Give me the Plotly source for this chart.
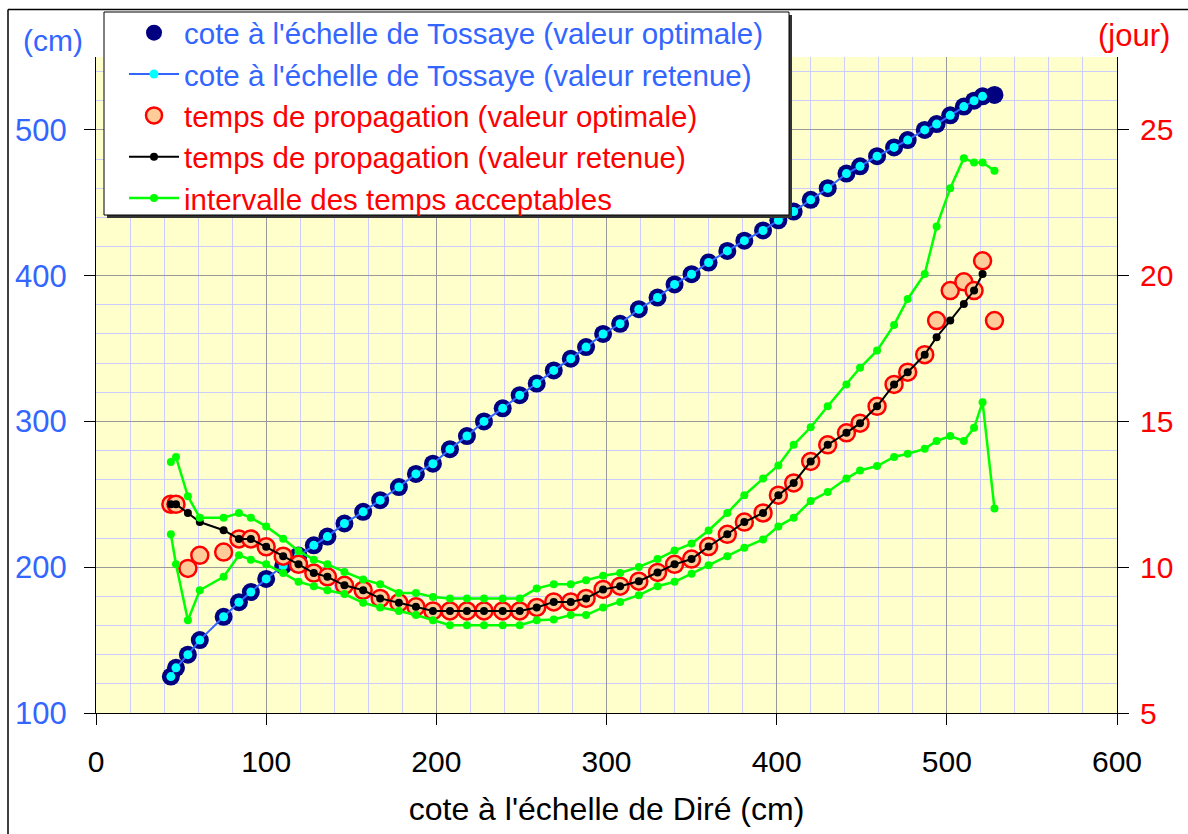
import plotly.graph_objects as go

# ---------------- data ----------------
cote_dire = [44, 47, 54, 61, 75, 84, 91, 100, 110, 119, 128, 136, 146, 157, 167, 178, 188, 198,
             208, 218, 228, 239, 249, 259, 269, 279, 288, 298, 308, 319, 330, 340, 350, 360,
             371, 381, 392, 401, 410, 420, 430, 441, 449, 459, 469, 477, 487, 494, 502, 510,
             516, 521, 528]

tossaye_optimale = [125, 131, 140, 150, 166, 176, 183, 192, 201, 208, 215, 221, 230, 238, 246,
                    255, 264, 271, 281, 290, 300, 309, 318, 326, 335, 343, 351, 360, 367, 377,
                    385, 394, 401, 409, 417, 424, 431, 438, 444, 452, 460, 470, 475, 482, 488,
                    493, 500, 504, 510, 516, 520, 523, 524]

tossaye_retenue = [125, 131, 140, 150, 166, 176, 183, 192, 201, 208, 215, 221, 230, 238, 246,
                   255, 264, 271, 281, 290, 300, 309, 318, 326, 335, 343, 351, 360, 367, 377,
                   385, 394, 401, 409, 417, 424, 431, 438, 444, 452, 460, 470, 475, 482, 488,
                   493, 500, 504, 510, 516, 520, 523]

temps_optimal = [12.16, 12.16, 9.96, 10.41, 10.52, 10.97, 10.97, 10.70, 10.38, 10.10,
                 9.80, 9.67, 9.38, 9.21, 8.93, 8.78, 8.64, 8.50, 8.50, 8.50,
                 8.50, 8.50, 8.50, 8.62, 8.81, 8.81, 8.93, 9.24, 9.35, 9.52,
                 9.82, 10.10, 10.28, 10.71, 11.13, 11.55, 11.86, 12.47, 12.89, 13.63,
                 14.20, 14.61, 14.94, 15.52, 16.27, 16.69, 17.29, 18.46, 19.49, 19.79,
                 19.49, 20.51, 18.46]

temps_retenu = [12.16, 12.16, 11.86, 11.55, 11.27, 10.97, 10.97, 10.70, 10.38, 10.10,
                9.80, 9.67, 9.38, 9.21, 8.93, 8.78, 8.64, 8.50, 8.50, 8.50,
                8.50, 8.50, 8.50, 8.62, 8.81, 8.81, 8.93, 9.24, 9.35, 9.52,
                9.82, 10.10, 10.28, 10.71, 11.13, 11.55, 11.86, 12.47, 12.89, 13.63,
                14.20, 14.61, 14.94, 15.52, 16.27, 16.69, 17.29, 17.89, 18.46, 19.03,
                19.49, 20.06]

temps_max = [13.61, 13.78, 12.43, 11.70, 11.70, 11.86, 11.70, 11.40, 10.98, 10.56,
             10.26, 10.10, 9.84, 9.58, 9.42, 9.12, 9.12, 8.98, 8.93, 8.93,
             8.93, 8.93, 8.93, 9.27, 9.42, 9.42, 9.55, 9.71, 9.80, 10.01,
             10.28, 10.57, 10.81, 11.26, 11.86, 12.47, 13.04, 13.49, 14.20, 14.80,
             15.52, 16.27, 16.84, 17.43, 18.31, 19.20, 20.06, 21.69, 23.00, 24.03,
             23.88, 23.88, 23.60]

temps_min = [11.13, 10.10, 8.18, 9.21, 9.67, 10.41, 10.26, 10.10, 9.80, 9.50,
             9.35, 9.21, 9.08, 8.78, 8.62, 8.50, 8.36, 8.18, 8.01, 8.01,
             8.01, 8.01, 8.01, 8.18, 8.21, 8.36, 8.36, 8.62, 8.81, 9.04,
             9.35, 9.50, 9.78, 10.07, 10.38, 10.67, 10.95, 11.40, 11.70, 12.27,
             12.58, 13.04, 13.32, 13.47, 13.78, 13.89, 14.06, 14.33, 14.50, 14.33,
             14.78, 15.66, 12.01]

noms = ["cote à l'échelle de Tossaye (valeur optimale)",
        "cote à l'échelle de Tossaye (valeur retenue)",
        "temps de propagation (valeur optimale)",
        "temps de propagation (valeur retenue)",
        "intervalle des temps acceptables"]

# ---------------- figure ----------------
FONT = "Liberation Sans, Arial, sans-serif"
BLUE_TXT = "#3366FF"
RED_TXT = "#FF0000"

W, H = 1188, 834
L, R, T, B = 96, 71, 57, 121
PW, PH = W - L - R, H - T - B


def px(xp):
    return (xp - L) / PW


def py(yp):
    return (H - B - yp) / PH


fig = go.Figure()

fig.add_trace(go.Scatter(
    x=cote_dire, y=tossaye_optimale, mode="markers",
    name=f'<span style="color:{BLUE_TXT}">{noms[0]}</span>',
    marker=dict(size=18, color="#000080"), yaxis="y"))

fig.add_trace(go.Scatter(
    x=cote_dire[:len(tossaye_retenue)], y=tossaye_retenue, mode="lines+markers",
    name=f'<span style="color:{BLUE_TXT}">{noms[1]}</span>',
    line=dict(color="#3366FF", width=2),
    marker=dict(size=9, color="#00FFFF"), yaxis="y"))

fig.add_trace(go.Scatter(
    x=cote_dire, y=temps_optimal, mode="markers",
    name=f'<span style="color:{RED_TXT}">{noms[2]}</span>',
    marker=dict(size=17, color="#FFCC99", line=dict(color="#FF0000", width=2.5)),
    yaxis="y2"))

fig.add_trace(go.Scatter(
    x=cote_dire[:len(temps_retenu)], y=temps_retenu, mode="lines+markers",
    name=f'<span style="color:{RED_TXT}">{noms[3]}</span>',
    line=dict(color="black", width=2),
    marker=dict(size=8, color="black"), yaxis="y2"))

fig.add_trace(go.Scatter(
    x=cote_dire + [None] + cote_dire, y=temps_max + [None] + temps_min,
    mode="lines+markers", connectgaps=False,
    name=f'<span style="color:{RED_TXT}">{noms[4]}</span>',
    line=dict(color="#00FF00", width=2.5),
    marker=dict(size=8, color="#00FF00"), yaxis="y2"))

axis_common = dict(showline=True, linecolor="black", linewidth=1,
                   ticks="outside", ticklen=11, tickcolor="black",
                   zeroline=False, automargin=False)

fig.update_layout(
    width=W, height=H,
    margin=dict(l=L, r=R, t=T, b=B, pad=0, autoexpand=False),
    paper_bgcolor="white", plot_bgcolor="#FFFFCC",
    font=dict(family=FONT, size=30, color="black"),
    showlegend=True,
    legend=dict(x=px(124), y=py(7), xanchor="left", yanchor="top",
                bgcolor="rgba(0,0,0,0)", borderwidth=0,
                font=dict(family=FONT, size=29.5), itemwidth=50,
                traceorder="normal"),
    xaxis=dict(range=[0, 600], dtick=100, tick0=0,
               showgrid=True, gridcolor="#999999", gridwidth=1,
               minor=dict(dtick=20, showgrid=True, gridcolor="#CCCCFF", gridwidth=1),
               tickfont=dict(size=30, color="black"), ticklabelstandoff=11,
               title=dict(text="cote à l'échelle de Diré (cm)", font=dict(size=32),
                          standoff=20),
               **axis_common),
    yaxis=dict(range=[100, 550], dtick=100, tick0=100,
               showgrid=True, gridcolor="#999999", gridwidth=1,
               minor=dict(dtick=20, showgrid=True, gridcolor="#CCCCFF", gridwidth=1),
               tickfont=dict(size=31, color=BLUE_TXT), ticklabelstandoff=11,
               **axis_common),
    yaxis2=dict(range=[5, 27.5], dtick=5, tick0=5, overlaying="y", side="right",
                showgrid=False,
                tickfont=dict(size=30, color=RED_TXT), ticklabelstandoff=5,
                **axis_common),
    annotations=[
        dict(text="(cm)", x=px(53), y=py(40), xref="paper", yref="paper",
             xanchor="center", yanchor="middle",
             showarrow=False, font=dict(size=30, color=BLUE_TXT)),
        dict(text="(jour)", x=px(1134), y=py(35), xref="paper", yref="paper",
             xanchor="center", yanchor="middle",
             showarrow=False, font=dict(size=31, color=RED_TXT)),
    ],
    shapes=[
        # chart frame (top and left)
        dict(type="line", xref="paper", yref="paper", x0=px(8), x1=px(W), y0=py(9.5), y1=py(9.5),
             line=dict(color="black", width=1.5), layer="above"),
        dict(type="line", xref="paper", yref="paper", x0=px(8), x1=px(8), y0=py(9.5), y1=py(H),
             line=dict(color="black", width=1.5), layer="above"),
        # legend shadow and box
        dict(type="rect", xref="paper", yref="paper", x0=px(107), x1=px(792), y0=py(15), y1=py(218),
             fillcolor="#333333", line=dict(width=0), layer="above"),
        dict(type="rect", xref="paper", yref="paper", x0=px(104), x1=px(789), y0=py(12), y1=py(215),
             fillcolor="white", line=dict(color="black", width=1), layer="above"),
    ],
)

fig.write_html("out.html")
